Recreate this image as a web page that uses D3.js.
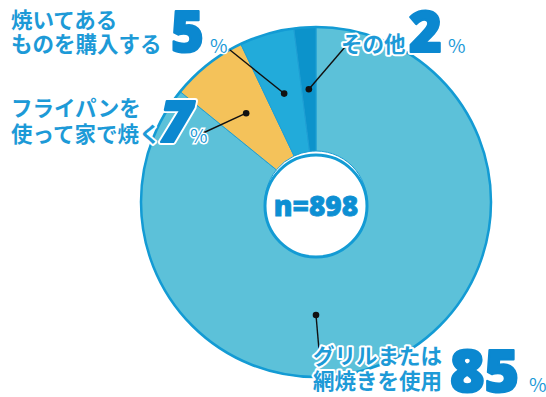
<!DOCTYPE html>
<html>
<head>
<meta charset="utf-8" />
<title>焼き方</title>
<style>
    body { margin: 0; background: #fff; }
    text { font-family: "Noto Sans CJK JP", "Noto Sans", sans-serif; }
</style>
</head>
<body>
<div id="container"></div>
<script src="https://cdn.jsdelivr.net/npm/d3@7"></script>
<script>
    // data
    const categories = ['グリルまたは網焼きを使用', 'フライパンを使って家で焼く', '焼いてあるものを購入する', 'その他']
    const values = [85, 7, 5, 2]
    const sampleSize = 898
    const labelLines = [['グリルまたは', '網焼きを使用'], ['フライパンを', '使って家で焼く'], ['焼いてある', 'ものを購入する'], ['その他']]

    const width = 546
    const height = 397
    const cx = 316, cy = 202
    const outerR = 175, innerR = 51

    const colors = ['#5cc1d9', '#f4c25a', '#22abda', '#0c93cb']

    let svg = d3.select('#container').append('svg').attr('width', width).attr('height', height)
    let chart = svg.append('g').attr('transform', `translate(${cx}, ${cy})`)

    let pie = d3.pie().sort(null).value(d => d)
    let arcs = pie(values)
    let arc = d3.arc().innerRadius(innerR).outerRadius(outerR)

    chart.selectAll('path.slice').data(arcs).enter().append('path')
        .attr('class', 'slice')
        .attr('d', arc)
        .style('fill', (d, i) => colors[i])
        .style('stroke', '#1e9fd4')
        .style('stroke-width', 1)

    // outer rim
    chart.append('circle').attr('r', outerR).style('fill', 'none').style('stroke', '#139bd4').style('stroke-width', 2.5)

    // centre hole
    chart.append('circle').attr('cx', 0).attr('cy', 4).attr('r', innerR)
        .style('fill', '#fff').style('stroke', '#139bd4').style('stroke-width', 3)
    chart.append('text').attr('x', 0).attr('y', 14)
        .attr('text-anchor', 'middle')
        .style('font-family', '"Noto Sans", sans-serif')
        .style('font-weight', 900).style('font-size', '28px').style('fill', '#0d8fd3')
        .style('stroke', '#0d8fd3').style('stroke-width', 0.8)
        .text(`n=${sampleSize}`)

    // leader dots: small slices on their mid angle, the big one at the bottom
    const dotR = 113
    const midAngle = d => (d.startAngle + d.endAngle) / 2
    const dotAngle = (d, i) => i === 0 ? Math.PI : midAngle(d)
    const dotPos = (d, i) => [Math.sin(dotAngle(d, i)) * dotR, -Math.cos(dotAngle(d, i)) * dotR]

    // where each leader line ends (page coords) and where the label block sits
    const leaderEnds = [[319, 350], [203, 133], [230, 50], [345, 47]]
    const labelPos = [
        { x: 313, y: 364, num: [450, 392], pct: [529, 392], numSize: 59, lh: 25 },
        { x: 11, y: 116, num: [160, 142], pct: [190, 143], numSize: 56, lh: 26, italic: true },
        { x: 11, y: 28, num: [171, 52], pct: [210, 53], numSize: 56, lh: 24 },
        { x: 341, y: 52, num: [409, 52], pct: [448, 53], numSize: 56, lh: 24 }
    ]

    let leaders = svg.append('g')
    arcs.forEach((d, i) => {
        const p = dotPos(d, i)
        leaders.append('line')
            .attr('x1', cx + p[0]).attr('y1', cy + p[1])
            .attr('x2', leaderEnds[i][0]).attr('y2', leaderEnds[i][1])
            .style('stroke', '#111').style('stroke-width', 1.4)
        leaders.append('circle').attr('cx', cx + p[0]).attr('cy', cy + p[1]).attr('r', 3.3).style('fill', '#111')
    })

    let labels = svg.append('g')
    labelPos.forEach((lp, i) => {
        let g = labels.append('g')
        labelLines[i].forEach((line, j) => {
            g.append('text').attr('x', lp.x).attr('y', lp.y + j * lp.lh)
                .style('font-size', '21.5px').style('font-weight', 700)
                .style('fill', '#1d9ad7')
                .style('stroke', '#fff').style('stroke-width', 4).style('paint-order', 'stroke')
                .style('stroke-linejoin', 'round')
                .text(line)
        })
        // big number: white halo underneath, then a fattened copy on top
        const num = (stroke, sw) => g.append('text').attr('x', lp.num[0]).attr('y', lp.num[1])
            .style('font-family', '"Noto Sans", sans-serif')
            .style('font-size', lp.numSize + 'px').style('font-weight', 900)
            .style('font-style', lp.italic ? 'italic' : 'normal')
            .style('fill', '#0b88d0')
            .style('stroke', stroke).style('stroke-width', sw).style('stroke-linejoin', 'round')
            .text(values[i])
        num('#fff', 6)
        num('#0b88d0', 2.2)
        g.append('text').attr('x', lp.pct[0]).attr('y', lp.pct[1])
            .style('font-size', '19px').style('font-weight', 400)
            .style('fill', '#1d9ad7')
            .style('stroke', '#fff').style('stroke-width', 3).style('paint-order', 'stroke')
            .text('%')
    })
</script>
</body>
</html>
